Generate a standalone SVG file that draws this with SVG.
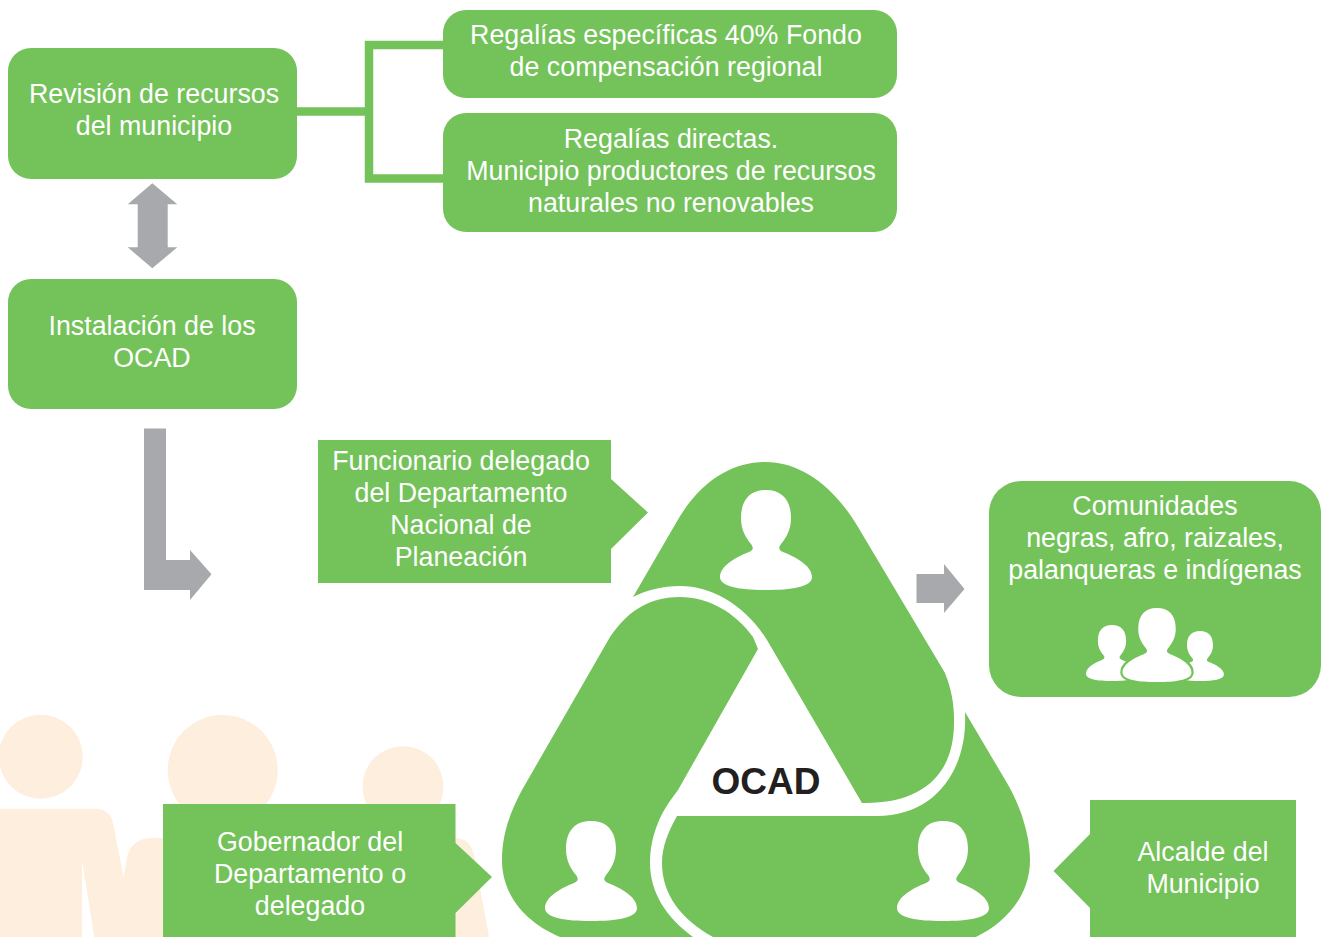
<svg xmlns="http://www.w3.org/2000/svg" width="1323" height="937" viewBox="0 0 1323 937">
<style>
.g{fill:#74c25a}
.a{fill:#a7a9ac}
.p{fill:#fdeedd}
.w{fill:#fff}
.t{font-family:"Liberation Sans",Arial,sans-serif;font-size:26.8px;fill:#fff;text-anchor:middle}
</style>
<defs>
<path id="person" d="M0,0C16,0 25,10 25,28C25,40 20,48 15,54C12,58 13,60 17,62C30,67 46,76 46,87C46,97 25,100 0,100C-25,100 -46,97 -46,87C-46,76 -30,67 -17,62C-13,60 -12,58 -15,54C-20,48 -25,40 -25,28C-25,10 -16,0 0,0Z"/>
</defs>
<rect class="w" width="1323" height="937"/>
<g id="background-people" class="p">
<circle cx="40.7" cy="756.700" r="42"/>
<circle cx="222.700" cy="770" r="55"/>
<circle cx="403" cy="786.700" r="40.500"/>
<path d="M0,808.700H95Q110,809 113,823L124,880L112.700,937H94.300L82,860V937H0Z"/>
<path d="M112.700,937L127,858Q131,838 153,838H455Q470,838 474,855L489,937Z"/>
</g>
<g id="connectors">
<path d="M297,111.500H369M443,45H369V178.500H443" fill="none" stroke="#74c25a" stroke-width="8.500"/>
<path class="a" d="M152.300,183.300L177.300,204.300H167.700V247.300H177.300L152.300,268.300L127.700,247.300H137.700V204.300H127.700Z"/>
<path class="a" d="M144,428.500H166V560H190V550L211.500,574.300L190,600V590H144Z"/>
<path class="a" d="M916.500,574H944V564L964.500,589L944,613V603H916.500Z"/>
</g>
<g id="revision"><rect class="g" x="8" y="48" width="289" height="131" rx="23"/><text class="t" x="154" y="103">Revisión de recursos</text><text class="t" x="154" y="135">del municipio</text></g>
<g id="instalacion"><rect class="g" x="8" y="279" width="289" height="130" rx="23"/><text class="t" x="152" y="335">Instalación de los</text><text class="t" x="152" y="367">OCAD</text></g>
<g id="regalias-especificas"><rect class="g" x="443" y="10" width="454" height="88" rx="23"/><text class="t" x="666" y="44">Regalías específicas 40% Fondo</text><text class="t" x="666" y="76">de compensación regional</text></g>
<g id="regalias-directas"><rect class="g" x="443" y="113" width="454" height="119" rx="23"/><text class="t" x="671" y="148">Regalías directas.</text><text class="t" x="671" y="180">Municipio productores de recursos</text><text class="t" x="671" y="212">naturales no renovables</text></g>
<g id="funcionario"><path class="g" d="M318,440H611V479L648,512.500L611,549V583H318Z"/><text class="t" x="461" y="470">Funcionario delegado</text><text class="t" x="461" y="502">del Departamento</text><text class="t" x="461" y="534">Nacional de</text><text class="t" x="461" y="566">Planeación</text></g>
<g id="comunidades"><rect class="g" x="989" y="481" width="332" height="216" rx="32"/><text class="t" x="1155" y="515">Comunidades</text><text class="t" x="1155" y="547">negras, afro, raizales,</text><text class="t" x="1155" y="579">palanqueras e indígenas</text>
<use href="#person" class="w" transform="translate(1112 625) scale(.565 .56)"/>
<use href="#person" class="w" transform="translate(1200 631) scale(.52 .5)"/>
<use href="#person" class="w" stroke="#74c25a" stroke-width="6" paint-order="stroke" transform="translate(1157 608) scale(.75 .74)"/></g>
<g id="gobernador"><path class="g" d="M163,804H455.500V843L492,877L455.500,913V937H163Z"/><text class="t" x="310" y="851">Gobernador del</text><text class="t" x="310" y="883">Departamento o</text><text class="t" x="310" y="915">delegado</text></g>
<g id="alcalde"><path class="g" d="M1296,800H1090V834L1053.500,871L1090,908V937H1296Z"/><text class="t" x="1203" y="861">Alcalde del</text><text class="t" x="1203" y="893">Municipio</text></g>
<g id="ocad">
<path class="g" d="M633,597L676,523C700,480 733,462 765,462C800,462 833,485 858,527L945,673C951,688 954,703 954,720C955,775 922,804 862,803L767,640C745,605 712,586 680,586C662,586 647,590 633,597Z"/>
<path class="g" d="M758,649L753,637C735,612 708,597 680,597C652,597 630,608 610,637L522,790C510,812 502,835 502,860C502,895 525,922 560,937H693C667,918 650,893 650,863C650,848 653,835 658,823C662,812 669,802 678,790Z"/>
<path class="g" d="M677,816H877C935,816 968,770 965,712L1007,783C1020,805 1030,835 1030,860C1030,895 1007,922 976,937H713C682,920 662,895 662,863C662,847 668,832 677,816Z"/>
<use href="#person" class="w" transform="translate(766 490)"/>
<use href="#person" class="w" transform="translate(591 821)"/>
<use href="#person" class="w" transform="translate(943 821)"/>
<text x="766" y="794" font-family="'Liberation Sans',Arial,sans-serif" font-size="37" font-weight="700" fill="#231f20" text-anchor="middle">OCAD</text>
</g>
</svg>
